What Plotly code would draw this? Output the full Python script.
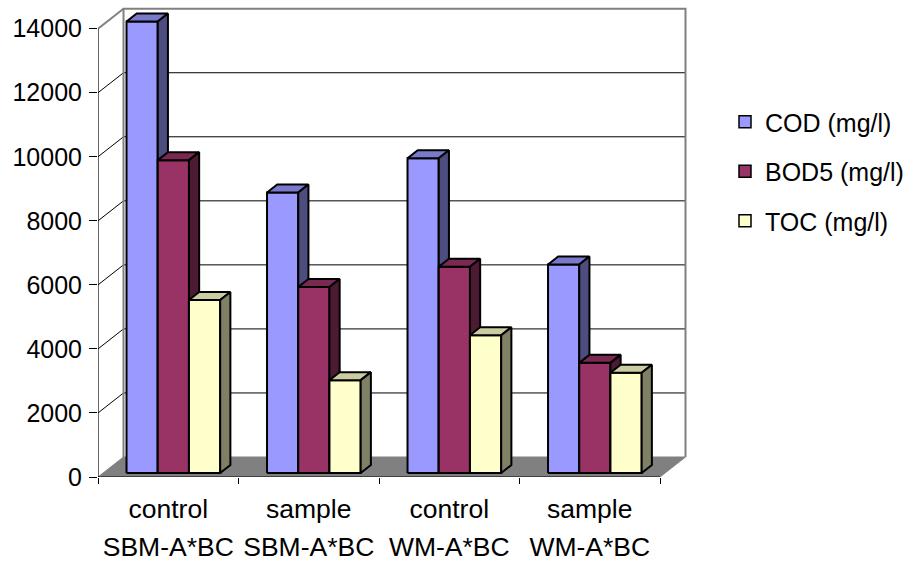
import plotly.graph_objects as go

# ---------------- data ----------------
categories_line1 = ["control", "sample", "control", "sample"]
categories_line2 = ["SBM-A*BC", "SBM-A*BC", "WM-A*BC", "WM-A*BC"]
series_names = ["COD (mg/l)", "BOD5 (mg/l)", "TOC (mg/l)"]
cod = [14100, 8760, 9830, 6510]
bod5 = [9770, 5810, 6440, 3440]
toc = [5400, 2900, 4300, 3130]
y_ticks = [0, 2000, 4000, 6000, 8000, 10000, 12000, 14000]

series_values = [cod, bod5, toc]
front_colors = ["#9999FF", "#993366", "#FFFFCC"]
top_colors = ["#7A7ACC", "#7A2952", "#CCCCA3"]
side_colors = ["#4D4D80", "#4D1A33", "#808066"]

# ---------------- geometry (layout only) ----------------
W, H = 914, 563
PX_PER_CAT = 140.5
PX_PER_VAL = 448.3 / 14000.0
ML, MR, MT, MB = 98, 222, 4, 86
plot_w = W - ML - MR
plot_h = H - MT - MB
x_range = [-0.5, -0.5 + plot_w / PX_PER_CAT]
y_range = [0, plot_h / PX_PER_VAL]

DXF = 25.5 / PX_PER_CAT      # full depth in x units
DYF = 20.0 / PX_PER_VAL      # full depth in value units
F0, F1 = 0.2, 0.6            # bar front / back depth fractions
dxb, dyb = (F1 - F0) * DXF, (F1 - F0) * DYF
n_ser = len(series_values)
bw = 1.0 / (n_ser + 1.5)     # bar width (gap width 150%)

x_left, x_right = -0.5, -0.5 + len(categories_line1)
ymax = y_ticks[-1]

fig = go.Figure()

def poly_trace(xs, ys, fill, line_color, lw):
    return go.Scatter(x=xs, y=ys, mode="lines", fill="toself", fillcolor=fill,
                      line=dict(color=line_color, width=lw), hoverinfo="skip",
                      showlegend=False)

def line_trace(xs, ys, color, lw):
    return go.Scatter(x=xs, y=ys, mode="lines", line=dict(color=color, width=lw),
                      hoverinfo="skip", showlegend=False)

# floor
fig.add_trace(poly_trace([x_left, x_right, x_right + DXF, x_left + DXF, x_left],
                         [0, 0, DYF, DYF, 0], "#808080", "#808080", 1))

# back wall gridlines and left wall diagonals
gx, gy, dx_, dy_ = [], [], [], []
for v in y_ticks[1:-1]:
    gx += [x_left + DXF, x_right + DXF, None]
    gy += [v + DYF, v + DYF, None]
    dx_ += [x_left, x_left + DXF, None]
    dy_ += [v, v + DYF, None]
fig.add_trace(line_trace(gx, gy, "#000000", 1))
fig.add_trace(line_trace(dx_, dy_, "#000000", 1))

# wall borders (gray)
fig.add_trace(line_trace(
    [x_left + DXF, x_left + DXF, x_right + DXF, x_right + DXF, None, x_left, x_left + DXF],
    [DYF, ymax + DYF, ymax + DYF, DYF, None, ymax, ymax + DYF], "#808080", 2))

# front axes
fig.add_trace(line_trace([x_left, x_left, None, x_left, x_right],
                         [0, ymax, None, 0, 0], "#000000", 1.2))

# bars (painter's order: series left to right)
for j, vals in enumerate(series_values):
    fx, fy, tx, ty, sx, sy = [], [], [], [], [], []
    for i, v in enumerate(vals):
        x0 = i - n_ser * bw / 2 + j * bw + F0 * DXF
        b = F0 * DYF
        fx += [x0, x0 + bw, x0 + bw, x0, x0, None]
        fy += [b, b, b + v, b + v, b, None]
        tx += [x0, x0 + bw, x0 + bw + dxb, x0 + dxb, x0, None]
        ty += [b + v, b + v, b + v + dyb, b + v + dyb, b + v, None]
        sx += [x0 + bw, x0 + bw + dxb, x0 + bw + dxb, x0 + bw, x0 + bw, None]
        sy += [b, b + dyb, b + v + dyb, b + v, b, None]
    fig.add_trace(poly_trace(fx, fy, front_colors[j], "#000000", 2))
    fig.add_trace(poly_trace(tx, ty, top_colors[j], "#000000", 2))
    fig.add_trace(poly_trace(sx, sy, side_colors[j], "#000000", 2))

# legend entries
for j, name in enumerate(series_names):
    fig.add_trace(go.Bar(x=[None], y=[None], name=name, legendgroup=name,
                         marker=dict(color=front_colors[j],
                                     line=dict(color="#000000", width=1.5))))

FONT = "Liberation Sans, Arial, sans-serif"
fig.update_layout(
    width=W, height=H,
    margin=dict(l=ML, r=MR, t=MT, b=MB, autoexpand=False),
    paper_bgcolor="white", plot_bgcolor="white",
    font=dict(family=FONT, size=24, color="black"),
    showlegend=True,
    legend=dict(xref="container", yref="container", x=725 / W, y=1 - 99 / H,
                xanchor="left", yanchor="top", tracegroupgap=14,
                font=dict(family=FONT, size=25, color="black"),
                bgcolor="rgba(0,0,0,0)"),
    xaxis=dict(range=x_range, tickmode="array", tickvals=[0, 1, 2, 3],
               ticktext=categories_line1, ticks="", showgrid=False, zeroline=False,
               showline=False, ticklabelstandoff=13, tickfont=dict(size=26.5),
               automargin=False,
               minor=dict(tickmode="array", tickvals=[-0.5, 0.5, 1.5, 2.5, 3.5],
                          ticks="outside", ticklen=6, tickcolor="black", showgrid=False)),
    xaxis2=dict(range=x_range, overlaying="x", anchor="y", side="bottom",
                tickmode="array", tickvals=[0, 1, 2, 3], ticktext=categories_line2,
                ticks="", showgrid=False, zeroline=False, showline=False,
                ticklabelstandoff=51, tickfont=dict(size=26.5), automargin=False),
    yaxis=dict(range=y_range, tickmode="array", tickvals=y_ticks,
               ticktext=[str(t) for t in y_ticks], ticks="outside", ticklen=8,
               tickcolor="black", showgrid=False, zeroline=False, showline=False,
               ticklabelstandoff=2, tickfont=dict(size=25), automargin=False),
)
# dummy trace to make xaxis2 render
fig.add_trace(go.Scatter(x=[None], y=[None], xaxis="x2", showlegend=False, hoverinfo="skip"))

fig.write_html("out.html")
